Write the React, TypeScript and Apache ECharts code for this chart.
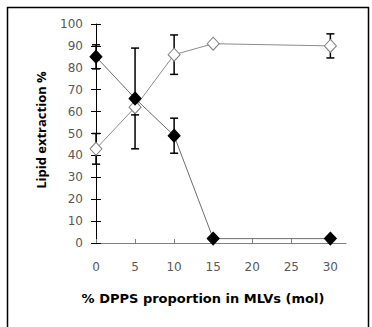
import React, { useEffect, useRef } from "react";
import * as echarts from "echarts";

// DPPS proportion in MLVs (mol %)
const dppsProportion = [0, 5, 10, 15, 30];
// Lipid extraction % (filled diamonds) and its error
const extractionFilled = [85, 66, 49, 2, 2];
const errorFilled = [5.5, 23, 8, 0, 0];
// Lipid extraction % (open diamonds) and its error
const extractionOpen = [43, 62, 86, 91, 90];
const errorOpen = [7, 3.5, 9, 0, 5.5];

const yTicks = [0, 10, 20, 30, 40, 50, 60, 70, 80, 90, 100];
const xTicks = [0, 5, 10, 15, 20, 25, 30];

const TICK_FONT = "'DejaVu Sans', 'Open Sans', sans-serif";
const TITLE_FONT = "'Open Sans', 'Liberation Sans', sans-serif";

function errorSeries(values: number[], errors: number[]) {
  const data = dppsProportion
    .map((x, i) => [x, values[i], errors[i]])
    .filter((d) => d[2] > 0);
  return {
    type: "custom",
    z: 3,
    silent: true,
    data,
    renderItem: (_params: any, api: any) => {
      const x = api.value(0);
      const y = api.value(1);
      const e = api.value(2);
      const top = api.coord([x, y + e]);
      const bottom = api.coord([x, y - e]);
      const half = 4;
      const style = { stroke: "#000", lineWidth: 1.5 };
      return {
        type: "group",
        children: [
          { type: "line", shape: { x1: top[0], y1: top[1], x2: bottom[0], y2: bottom[1] }, style },
          { type: "line", shape: { x1: top[0] - half, y1: top[1], x2: top[0] + half, y2: top[1] }, style },
          { type: "line", shape: { x1: bottom[0] - half, y1: bottom[1], x2: bottom[0] + half, y2: bottom[1] }, style },
        ],
      };
    },
  };
}

export default function App() {
  const ref = useRef<HTMLDivElement>(null);

  useEffect(() => {
    if (!ref.current) return;
    const chart = echarts.init(ref.current, null, { renderer: "svg" });
    const yMax = yTicks[yTicks.length - 1];
    chart.setOption({
      animation: false,
      backgroundColor: "#fff",
      grid: { left: 96, right: 26, top: 24, bottom: 84 },
      xAxis: {
        type: "value",
        min: xTicks[0],
        max: 32,
        interval: 5,
        axisLine: { show: true, lineStyle: { color: "#808080", width: 1 } },
        axisTick: { show: true, inside: true, length: 4, lineStyle: { color: "#808080" } },
        axisLabel: {
          showMaxLabel: false,
          margin: 18,
          color: "#595959",
          fontFamily: TICK_FONT,
          fontSize: 12,
          formatter: (v: number) => (xTicks.includes(v) ? String(v) : ""),
        },
        splitLine: { show: false },
      },
      yAxis: [
        {
          type: "value",
          min: 0,
          max: yMax,
          interval: 10,
          axisLine: { show: true, lineStyle: { color: "#000", width: 1 } },
          axisTick: { show: true, length: 5, lineStyle: { color: "#000" } },
          axisLabel: { margin: 13, color: "#595959", fontFamily: TICK_FONT, fontSize: 12 },
          splitLine: { show: false },
        },
        {
          type: "value",
          position: "left",
          min: 0,
          max: yMax,
          interval: 10,
          axisLine: { show: false },
          axisTick: { show: true, inside: true, length: 5, lineStyle: { color: "#000" } },
          axisLabel: { show: false },
          splitLine: { show: false },
        },
      ],
      series: [
        errorSeries(extractionFilled, errorFilled),
        errorSeries(extractionOpen, errorOpen),
        {
          type: "line",
          z: 4,
          data: dppsProportion.map((x, i) => [x, extractionOpen[i]]),
          symbol: "diamond",
          symbolSize: [12, 13],
          showAllSymbol: true,
          lineStyle: { color: "#8c8c8c", width: 1 },
          itemStyle: { color: "#fff", borderColor: "#7f7f7f", borderWidth: 1 },
        },
        {
          type: "line",
          z: 4,
          data: dppsProportion.map((x, i) => [x, extractionFilled[i]]),
          symbol: "diamond",
          symbolSize: [12, 13],
          showAllSymbol: true,
          lineStyle: { color: "#6e6e6e", width: 1 },
          itemStyle: { color: "#000", borderColor: "#000", borderWidth: 1 },
        },
      ],
      graphic: [
        {
          type: "rect",
          shape: { x: 7.5, y: 7.5, width: 361, height: 330 },
          style: { fill: "none", stroke: "#000", lineWidth: 1.5 },
          silent: true,
        },
        {
          type: "text",
          x: 203,
          y: 298,
          style: {
            text: "% DPPS proportion in MLVs (mol)",
            font: `bold 13px ${TICK_FONT}`,
            fill: "#000",
            align: "center",
            verticalAlign: "middle",
          },
        },
        {
          type: "text",
          x: 41,
          y: 130,
          rotation: Math.PI / 2,
          style: {
            text: "Lipid extraction %",
            font: `bold 13px ${TITLE_FONT}`,
            fill: "#000",
            align: "center",
            verticalAlign: "middle",
          },
        },
      ],
    });
    return () => chart.dispose();
  }, []);

  return (
    <div
      ref={ref}
      style={{ position: "absolute", left: 0, top: 0, width: 372, height: 327 }}
    />
  );
}
